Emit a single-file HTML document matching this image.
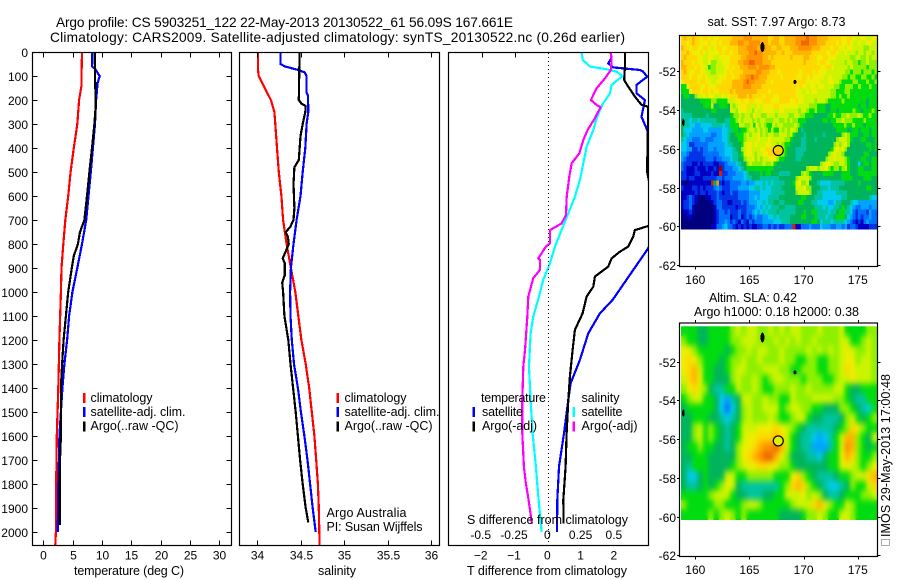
<!DOCTYPE html>
<html lang="en">
<head>
<meta charset="utf-8">
<title>Argo profile</title>
<style>
html,body{margin:0;padding:0;background:#fff;}
svg{display:block;}
text{font-family:"Liberation Sans",sans-serif;font-size:12.5px;fill:#000;}
text.title{font-size:13.7px;}
text.tick{font-size:12px;}
</style>
</head>
<body>
<svg id="chart" xmlns="http://www.w3.org/2000/svg" width="900" height="580" viewBox="0 0 900 580">
<defs>
<clipPath id="diffClip"><rect x="449" y="53" width="199" height="492"/></clipPath>
<clipPath id="slaClip"><rect x="681" y="326" width="196" height="193"/></clipPath>
<filter id="slaBlur" x="-5%" y="-5%" width="110%" height="110%" color-interpolation-filters="sRGB"><feGaussianBlur stdDeviation="2 3.2"/></filter>
</defs>
<g id="maps"></g>
<g id="profiles"></g>
<g id="axes"></g>

<text class="title" x="56" y="27" textLength="457">Argo profile: CS 5903251_122 22-May-2013 20130522_61 56.09S 167.661E</text>
<text class="title" x="50" y="42" textLength="575">Climatology: CARS2009. Satellite-adjusted climatology: synTS_20130522.nc (0.26d earlier)</text>

<text x="74" y="575" textLength="110">temperature (deg C)</text>
<text x="318" y="575" textLength="38">salinity</text>
<text x="467" y="575" textLength="160">T difference from climatology</text>
<text x="467" y="524" textLength="161">S difference from climatology</text>

<g>
<rect x="83" y="393" width="2.5" height="10" fill="#f00"/>
<rect x="83" y="407" width="2.5" height="10" fill="#00f"/>
<rect x="83" y="421.5" width="2.5" height="10" fill="#000"/>
<text x="90.5" y="402" textLength="62">climatology</text>
<text x="90.5" y="416" textLength="95">satellite-adj. clim.</text>
<text x="90.5" y="430" textLength="88">Argo(..raw -QC)</text>
</g>
<g>
<rect x="336.5" y="393" width="2.5" height="10" fill="#f00"/>
<rect x="336.5" y="407" width="2.5" height="10" fill="#00f"/>
<rect x="336.5" y="421.5" width="2.5" height="10" fill="#000"/>
<text x="344.5" y="402" textLength="62">climatology</text>
<text x="344.5" y="416" textLength="95">satellite-adj. clim.</text>
<text x="344.5" y="430" textLength="88">Argo(..raw -QC)</text>
<text x="326.5" y="517" textLength="80">Argo Australia</text>
<text x="326.5" y="531" textLength="96">PI: Susan Wijffels</text>
</g>
<g>
<text x="481" y="402" textLength="65">temperature</text>
<rect x="472.5" y="407" width="2.5" height="10" fill="#00f"/>
<text x="482" y="416" textLength="41">satellite</text>
<rect x="472.5" y="421.5" width="2.5" height="10" fill="#000"/>
<text x="482" y="430" textLength="55">Argo(-adj)</text>
<text x="581.5" y="402" textLength="38">salinity</text>
<rect x="572.5" y="407" width="2.5" height="10" fill="#0ff"/>
<text x="581.5" y="416" textLength="41">satellite</text>
<rect x="572.5" y="421.5" width="2.5" height="10" fill="#f0f"/>
<text x="581.5" y="430" textLength="56">Argo(-adj)</text>
</g>

<text x="707.5" y="26" textLength="138">sat. SST: 7.97 Argo: 8.73</text>
<text x="709" y="302" textLength="88">Altim. SLA: 0.42</text>
<text x="694" y="316" textLength="165">Argo h1000: 0.18 h2000: 0.38</text>

<text transform="translate(890,537) rotate(-90)" x="0" y="0" textLength="163">IMOS 29-May-2013 17:00:48</text>
<rect x="881.5" y="539.5" width="8" height="6" fill="none" stroke="#555" stroke-width="1" stroke-dasharray="1 1"/>
</svg>

<script>
// ---------- profile data (depth in m) ----------
const tempClimDepth = [0,100,140,200,300,400,500,600,700,800,900,1000,1200,1400,1600,1800,2000,2054];
const tempClim = [6.6,6.5,6.5,6.1,5.8,5.2,4.65,4.25,3.75,3.4,3.1,3.0,2.75,2.55,2.3,2.2,2.15,2.05];
const tempSatDepth = [0,60,70,100,130,200,300,400,500,600,700,800,900,1000,1100,1200,1300,1400,1500,1600,1700,1800,2000];
const tempSat = [8.3,8.3,8.8,9.6,9.25,9.0,8.8,8.45,8.1,7.7,7.3,6.6,5.8,4.95,4.4,4.05,3.6,3.25,3.0,2.75,2.65,2.55,2.45];
const tempArgoDepth = [0,100,220,300,400,500,600,700,750,800,850,900,1000,1100,1200,1300,1400,1500,1600,1700,1800,1970];
const tempArgo = [8.75,8.8,8.95,8.7,8.3,7.85,7.45,7.0,6.25,5.9,5.2,4.85,4.25,3.85,3.45,3.2,3.0,3.0,3.0,2.85,2.8,2.8];

const salClimDepth = [0,70,100,150,200,250,300,400,500,600,700,800,900,1000,1100,1200,1300,1400,1500,1600,1700,1800,1900,2054];
const salClim = [34.01,34.01,34.02,34.09,34.16,34.2,34.21,34.23,34.25,34.28,34.3,34.34,34.39,34.44,34.475,34.51,34.56,34.6,34.63,34.66,34.68,34.7,34.71,34.72];
const salSatDepth = [0,50,60,75,85,100,170,180,250,300,400,500,600,700,800,900,1000,1100,1200,1300,1400,1500,1600,1700,1800,1900,2000];
const salSat = [34.27,34.27,34.32,34.475,34.55,34.57,34.57,34.586,34.59,34.57,34.555,34.525,34.5,34.455,34.42,34.39,34.38,34.385,34.4,34.425,34.47,34.505,34.545,34.58,34.61,34.64,34.675];
const salArgoDepth = [0,200,215,225,250,300,350,450,480,550,650,700,730,750,770,800,840,860,880,930,960,1000,1100,1200,1300,1400,1500,1600,1700,1800,1900,1960];
const salArgo = [34.49,34.48,34.51,34.56,34.555,34.525,34.5,34.48,34.43,34.42,34.43,34.42,34.38,34.33,34.355,34.365,34.32,34.295,34.32,34.32,34.29,34.3,34.315,34.36,34.385,34.415,34.445,34.47,34.495,34.525,34.56,34.59];

const diffTSatDepth = [0,25,47,64,75,82,103,137,172,200,270,325,380,600,818,1033,1089,1172,1283,1381,1450,1589,1728,1867,2000];
const diffTSat = [1.87,1.9,1.8,1.95,2.75,2.85,2.97,2.65,2.65,2.9,2.8,2.97,3.03,3.6,3.0,1.93,1.55,1.2,0.95,0.67,0.6,0.47,0.32,0.27,0.26];
const diffTArgoDepth = [0,60,117,144,186,220,228,300,380,500,700,725,742,770,811,832,860,894,936,978,1019,1089,1158,1242,1353,1450,1589,1728,1867,1964];
const diffTArgo = [2.3,2.3,2.28,2.4,2.6,2.8,3.0,3.0,2.98,2.97,3.25,3.0,2.6,2.55,2.4,2.15,1.9,1.8,1.4,1.35,1.15,1.03,0.8,0.73,0.65,0.6,0.55,0.52,0.45,0.46];
const diffSSatDepth = [0,33,61,72,82,100,137,172,220,276,325,394,464,533,603,672,742,811,880,950,1019,1103,1172,1311,1450,1589,1728,1867,2000];
const diffSSat = [0.25,0.258,0.313,0.438,0.513,0.558,0.475,0.463,0.405,0.363,0.338,0.288,0.263,0.238,0.2,0.15,0.1,0.05,0.013,-0.038,-0.07,-0.113,-0.133,-0.145,-0.133,-0.118,-0.093,-0.073,-0.05];
const diffSArgoDepth = [0,33,75,110,151,200,221,230,276,325,367,422,464,519,603,679,714,742,797,811,860,866,908,943,1019,1103,1242,1311,1450,1589,1728,1797,1867,1964];
const diffSArgo = [0.468,0.475,0.47,0.425,0.363,0.32,0.363,0.393,0.35,0.295,0.263,0.233,0.175,0.158,0.138,0.133,0.1,0.013,0.013,-0.018,-0.075,-0.063,-0.063,-0.113,-0.15,-0.158,-0.175,-0.188,-0.195,-0.195,-0.183,-0.168,-0.148,-0.123];

// ---------- tick labels ----------
const depthTicks = [0,100,200,300,400,500,600,700,800,900,1000,1100,1200,1300,1400,1500,1600,1700,1800,1900,2000];
const tempTicks = [0,5,10,15,20,25,30];
const salTicks = [34,34.5,35,35.5,36];
const diffTTicks = [-2,-1,0,1,2];
const diffSTicks = [-0.5,-0.25,0,0.25,0.5];
const lonTicks = [160,165,170,175];
const latTicks = [-52,-54,-56,-58,-60,-62];

// ---------- map data: each letter is a colour level, a (lowest) .. r (highest) ----------
const levelLetters = "abcdefghijklmnopqr";
const levelColors = ["#00007f","#0000c4","#0034e6","#0070ff","#00a4ff","#00ccee","#00c4a0","#00b45c","#00dc10","#8cf000","#ccf400","#eeee00","#ffd800","#ffb400","#ff9000","#ee6800","#d82000","#900000"];
const sstRows = [
"mnmmnmmlmmlmllmmmmmnnnnooonnnnnnmmnnmmnnnnoooopooonnnnmmmmmllmmlkkllkkll",
"mmlmnmmlllmllmlmmmnnnoonnoooonnnmnnnmmnnnnoopppooonnnmmmmlmllmlkklkkllkk",
"nmmlmmllmmlklmmllmmmmnnnoooonoonnmmnnmmmnnnooooonnnmmmmlmmllkllkkkkjjkkk",
"mmnmlllmlkllllmlmmlmmnnnnoopoonnnnnmmnmmmnnnnnnnmmmmmllmmlkklkkkjkkjkkjk",
"mnmmmmllkkllkkllllmmmmnnoooooonnmnmmmmmmnmmmmnnmmmllmmlllkkkkkjjkkjjkjkk",
"nmmmlmllkkljjkklllmmmnnooppooonnnmmmmmmmmmmmmnmmmmlmmllkkkkkjkkjjijjkjjj",
"nnmmmlmllkijjkkkllmlmmnnnooonoooonnmmmmmmmmmmmmmmmmmllmmlkkkkkjkjjjjjijjj",
"mnmllmmllkkjjkkklmlmmmmnnnnnoonnnmmmlmmmmmmmlmmmmlmlllkkkkkkkjjijjjijjjij",
"mmmlmmllmlkkkklllmmlmmnnoopoonnnmmmmmlmmmmmllmmlmllllkklkkkkjjijjiijjiiji",
"lmmmmmlmmllkkllmmmmnnnnopoonnnnmmlmmmmmmmlmmmmlllllkkkllkkjiiiijjiiijiij",
"iilmmmmllmlllmmmmmmnnnnooonnnnmmmmmmmmmmmmmlmllkllkllkkkkjjiijjjiijiiijii",
"iiilmmmlmmlmllmmmmnmnnnnnnnnmmmmlmmmmmmmmmllkklkllkkkkkjjiiijjiiiiiiiiii",
"hiihhjkklkllkkklklmmmnnnmnmmmmlmmmllmmmmmmlllkkkkkkkkkkjjijiijiiiiiiiiii",
"hhhhhhhiiiijjiiiikkkllmllmmlllmmmlllmmmmllmllkkkkjkkkjiiiiijiiiiiiiihiii",
"hhhhhhhhiiikhhiiihkjklllmkkklkllllmmlllllllkkkkjjjiiihhiiiiiiiiiihiihiii",
"ghhhhhhhhhhiihhhhhkkjlllkkjlkkllllkkllkkkkkjkkjiijiiihhiihiiiiijiihiiiji",
"gggghhhhhghhhhhhhhijjkjkkjlkkjjkkkjkkkkjjkkjjiiihhhhhiijiijjkjjjkjiijii",
"hggfggfgggggghhhggiijkjkkkjkjkkjjjkkjjkjkjjiiihhhhhhiihiijjkjjjiiiijiiii",
"hggffeeffffggggfggiiikkjjkiljkjiikjkkjjjjkjihhhhhhhhhhhiiiijiijiiihiiii",
"hfffeeeeffeeeeeffggiihiijkkjkjkjikiikjkjkkjhghhhhhhhhhhhhiiiihhiihiiihii",
"hgfeeeeeeeeddeeffghhiiijkjkkljkjkkjjkkkjkihhhghhhhhhghhhhhhjkjiiihhiihii",
"gfeedddeedddeeeffghhhiijkkkklkkklkkkkkjjihhhgghhhghhhhhhhjkkkjihhhiihhhi",
"ffeccdddddeeeeeefgghhhikllklkkkllkkjkjiihhhhgghhhhhhhhhhjkjkljhhhhhhiihi",
"ffeeccdcddeedeeefffghhjkllkkkllmmmmmlkihhhgggghhhhhhhhhiklkljhhhhhhhhihi",
"eedcccccddddddeefffgghikllkjkkllmmmlkjihhhggghhhhhhhhhjklkkjhhhhhhhiihhh",
"edcccccccdddcddeeefgghhjkkljkjkkllljiihhhhgghhhhhhhhhjkklkkkjihhhhiihhii",
"dcccbbcbccccbbccdeeefghhjkjjjjkjjkihhhhhhhhhhhhhhhhjkllkjjkkjihhhfhiihii",
"dcbbbcbbbcbbcbrcdddeefghiiiiiiiiiihhhhhhhhhhhhjkkkjkkljijjijkihhhiihhhii",
"ccbbbccbbbbcbbqccdddeeefghhhhihiihhhgggghhhhjkjihhhhiiiihhhiiihhhiiiiiii",
"ccbccbbbcccccddcdddeeeefgghhhggggggghhhhhhjkkkkjhhhhhhhhhhhiiiihhhhiiihh",
"baabbbbbbbbqhocbccddddeedeefffgfgfgggghhhikljjkhhhgffffggggghhhhhihhhhhh",
"cbbbccbcbcccdedcccdddeeeeffggfgffgggghhhhhkkkljjhhhgggfggghhhhhhhhhhiihh",
"bbbbbcbccbcccdcbccdccddddeeeeffffggggghhhhjkkkkjhhggfffffgggghhhhhhhhhhh",
"bbcdcbaaabbccdcccccccddddeefefffgggghhhhhhhhiihhhgggfffffffgghhhhhhhhgff",
"bccdcbaaaaabcddccbbcccdcdeeeffgfgghhgghhhhhiihhhggffffeefgghhhgffeeeeeee",
"bccdbaaaaaaabddcccccbcccdddefefgfggghhgggghhhhhhhgggfgffgghihgfeddeeedee",
"abbcbaaaaaaabcddcdcccdccddefefgfggghgggggghhhihhiiggggfgghiiggfdcdddcedd",
"aabbaaaaaaaabcddddbccdbcdcdeddeeffgfgggghhhhiihhhigggfgghiiihfedcdcddedd",
"aaaaaaaaaaaabcddedcdcbdcbdcdddeeeefffggghhhhhhhhiihfgggfggggfedcbcbdeddd",
"aaaaaaaaaaabbddefddcbcbcbcbbccddcdcdccdddqbbdddedddfeeeddeedecddcbbbbccc"
];
const slaRows = [
"iiihhiiiijkjkkjjkjkjkkjjjkjjjkiiiijj",
"jiihhiiiijjkkkjjjkjkjkjjkjjjjkkiijkj",
"lljiiiiihijjkjkkjjkjjjjkjkjkjklkjjkj",
"lmljiiihijjkjjkjjjkjjiijjiijjklljkkj",
"lmnkiihhijkkjjjkkkjjiijjjiijjkmlkkkj",
"kmnliihhhjkjjkjijkkjjjijjjiijkklkkkj",
"jlmkjhggiikjjkjiijjjkjjkjjjjkkihhiii",
"ijkkiihfeghkkjjkjjiikjjjkkkkjjihggii",
"hiiiiihfdfhjkjjkkkijkkjjiihhhjjihgfi",
"hhiiihhgfghjkjjjkjiijkkihhggghjkihij",
"hhjkijihghikkklllmlkjihggggghijmljii",
"hhjkijihghikllmmmnmkihggfefgiknnjihk",
"hiijiihhghjllmnoopnkihggeeegikonjihi",
"hhiiihhhhhjlmnoppnljhhhggfhiilnmjiij",
"hgiiihhhhijkllmmlljjihhhhhhiiklkjijl",
"hffhihhhkkiijjjjjiiilmjihggghiijkkmn",
"hgghihijlkhgggggggijmnmjihgffghjiikm",
"iiiiijkkkihhggghhiikkkljkjhgghiiijjk",
"jiiiiijjiiijkkjiiiiijkkkmnljiikjiiii",
"iiiiijijkjijiiiiiihhhhijjkjiikkjiiii"
];
const coastLon = [166.2,169.2,158.9];
const coastLat = [-50.75,-52.55,-54.65];
const coastW = [4,3,2.5];
const coastH = [10,4,7];
const floatLon = 167.661;
const floatLat = -56.09;

// ---------- helpers ----------
const SVGNS = "http://www.w3.org/2000/svg";
const depthY = d => 52 + d * 0.24;
const tempX = t => 43.3 + t * 5.87;
const salX = s => 257 + (s - 34) * 87;
const diffTX = t => 548.3 + t * 33.3;
const diffSX = s => 548.3 + s * 4 * 33.3;
const lonX = lon => 695.3 + (lon - 160) * 10.83;
const latY1 = lat => 71.3 + (-52 - lat) * 19.37;
const latY2 = lat => 361.7 + (-52 - lat) * 19.37;

const mapsG = document.getElementById("maps");
const profG = document.getElementById("profiles");
const axesG = document.getElementById("axes");

function mk(tag, parent, attrs) {
  const el = document.createElementNS(SVGNS, tag);
  for (const k in attrs) el.setAttribute(k, attrs[k]);
  parent.appendChild(el);
  return el;
}

function drawSeries(name, depths, values, xf, color, clip) {
  const pts = depths.map((d, i) => xf(values[i]).toFixed(1) + "," + depthY(d).toFixed(1)).join(" ");
  const el = mk("polyline", profG, {points: pts, fill: "none", stroke: color, "stroke-width": 2.2, "stroke-linejoin": "round", "shape-rendering": "crispEdges"});
  
  
  if (clip) el.setAttribute("clip-path", "url(#diffClip)");
}

function frame(name, x, y, w, h) {
  const el = mk("rect", axesG, {x: x, y: y, width: w, height: h, fill: "none", stroke: "#000", "stroke-width": 1.2});
  
  
}

function tick(x1, y1, x2, y2) {
  const el = mk("line", axesG, {x1: x1, y1: y1, x2: x2, y2: y2, stroke: "#000", "stroke-width": 1});
  
  
}

function label(str, x, y, anchor) {
  const el = mk("text", axesG, {x: x, y: y, "text-anchor": anchor, "class": "tick"});
  el.textContent = str;
  
  
}

function drawMap(name, rows, latY, smooth) {
  const top = latY(-50.17), bottom = latY(-60.14);
  const left = lonX(158.68), right = lonX(176.78);
  const ch = (bottom - top) / rows.length;
  const cells = mk("g", mapsG, {id: name + "-cells"});
  
  
  rows.forEach((row, r) => {
    const cw = (right - left) / row.length;
    for (let c = 0; c < row.length; c++) {
      const el = mk("rect", cells, {
        x: (left + c * cw).toFixed(2), y: (top + r * ch).toFixed(2),
        width: (cw + 0.4).toFixed(2), height: (ch + 0.4).toFixed(2),
        fill: levelColors[levelLetters.indexOf(row[c])], "shape-rendering": "crispEdges"
      });
      
      
    }
  });
  if (smooth) {
    const wrap = mk("g", mapsG, {"clip-path": "url(#slaClip)"});
    
    
    const copy = mk("use", wrap, {href: "#" + name + "-cells", filter: "url(#slaBlur)"});
    
    
  }
  coastLon.forEach((lon, i) => {
    const el = mk("ellipse", mapsG, {cx: lonX(lon), cy: latY(coastLat[i]), rx: coastW[i] / 2, ry: coastH[i] / 2, fill: "#000", "shape-rendering": "crispEdges"});
    
    
  });
}

// ---------- maps ----------
drawMap("sst-map", sstRows, latY1, false);
drawMap("sla-map", slaRows, latY2, true);

const float1 = mk("circle", mapsG, {cx: lonX(floatLon), cy: latY1(floatLat), r: 5, fill: "#ffd000", stroke: "#000", "stroke-width": 1.2});


const float2 = mk("circle", mapsG, {cx: lonX(floatLon), cy: latY2(floatLat), r: 5, fill: "#dff000", stroke: "#000", "stroke-width": 1.2});



// ---------- profiles ----------
drawSeries("temperature-climatology-line", tempClimDepth, tempClim, tempX, "#f00");
drawSeries("temperature-satellite-line", tempSatDepth, tempSat, tempX, "#00f");
drawSeries("temperature-argo-line", tempArgoDepth, tempArgo, tempX, "#000");
drawSeries("salinity-climatology-line", salClimDepth, salClim, salX, "#f00");
drawSeries("salinity-satellite-line", salSatDepth, salSat, salX, "#00f");
drawSeries("salinity-argo-line", salArgoDepth, salArgo, salX, "#000");
drawSeries("t-diff-satellite-line", diffTSatDepth, diffTSat, diffTX, "#00f", true);
drawSeries("t-diff-argo-line", diffTArgoDepth, diffTArgo, diffTX, "#000", true);
drawSeries("s-diff-satellite-line", diffSSatDepth, diffSSat, diffSX, "#0ff", true);
drawSeries("s-diff-argo-line", diffSArgoDepth, diffSArgo, diffSX, "#f0f", true);

// ---------- axes ----------
frame("temperature-panel-frame", 32.5, 52.5, 199, 493);
frame("salinity-panel-frame", 239.5, 52.5, 200, 493);
frame("difference-panel-frame", 448.5, 52.5, 200, 493);
frame("sst-map-frame", 679.5, 35.5, 198, 231);
frame("sla-map-frame", 679.5, 323, 198, 233.5);

depthTicks.forEach(d => {
  const y = Math.round(depthY(d)) + 0.5;
  tick(32.5, y, 37.5, y);
  tick(226.5, y, 231.5, y);
  label(String(d), 28, y + 4.5, "end");
});
tempTicks.forEach(t => {
  const x = Math.round(tempX(t)) + 0.5;
  tick(x, 52.5, x, 57.5);
  tick(x, 540.5, x, 545.5);
  label(String(t), x, 559.5, "middle");
});
salTicks.forEach(s => {
  const x = Math.round(salX(s)) + 0.5;
  tick(x, 52.5, x, 57.5);
  tick(x, 540.5, x, 545.5);
  label(String(s), x, 559.5, "middle");
});
diffTTicks.forEach(t => {
  const x = diffTX(t);
  if (t < 0) tick(Math.round(x) + 0.5, 52.5, Math.round(x) + 0.5, 57.5);
  label(t < 0 ? "\u2212" + Math.abs(t) : String(t), x - 1, 559.5, "middle");
});
diffSTicks.forEach(s => {
  label(s < 0 ? "-" + Math.abs(s) : String(s), diffSX(s) - 1, 539, "middle");
});

const zeroLine = mk("line", axesG, {x1: 548.5, y1: 53, x2: 548.5, y2: 545, stroke: "#000", "stroke-width": 1, "stroke-dasharray": "1 3"});



[[latY1, 35.5, 266.5, 284], [latY2, 323, 556.5, 574]].forEach(cfg => {
  const latY = cfg[0], top = cfg[1], bottom = cfg[2], base = cfg[3];
  lonTicks.forEach(lon => {
    const x = Math.round(lonX(lon)) + 0.5;
    tick(x, top - 3, x, top);
    tick(x, bottom, x, bottom + 3);
    label(String(lon), lonX(lon), base, "middle");
  });
  latTicks.forEach(lat => {
    const y = Math.round(latY(lat)) + 0.5;
    tick(677, y, 679.5, y);
    tick(877.5, y, 880.5, y);
    label(String(lat), 676, y + 4.5, "end");
  });
});
</script>
</body>
</html>
